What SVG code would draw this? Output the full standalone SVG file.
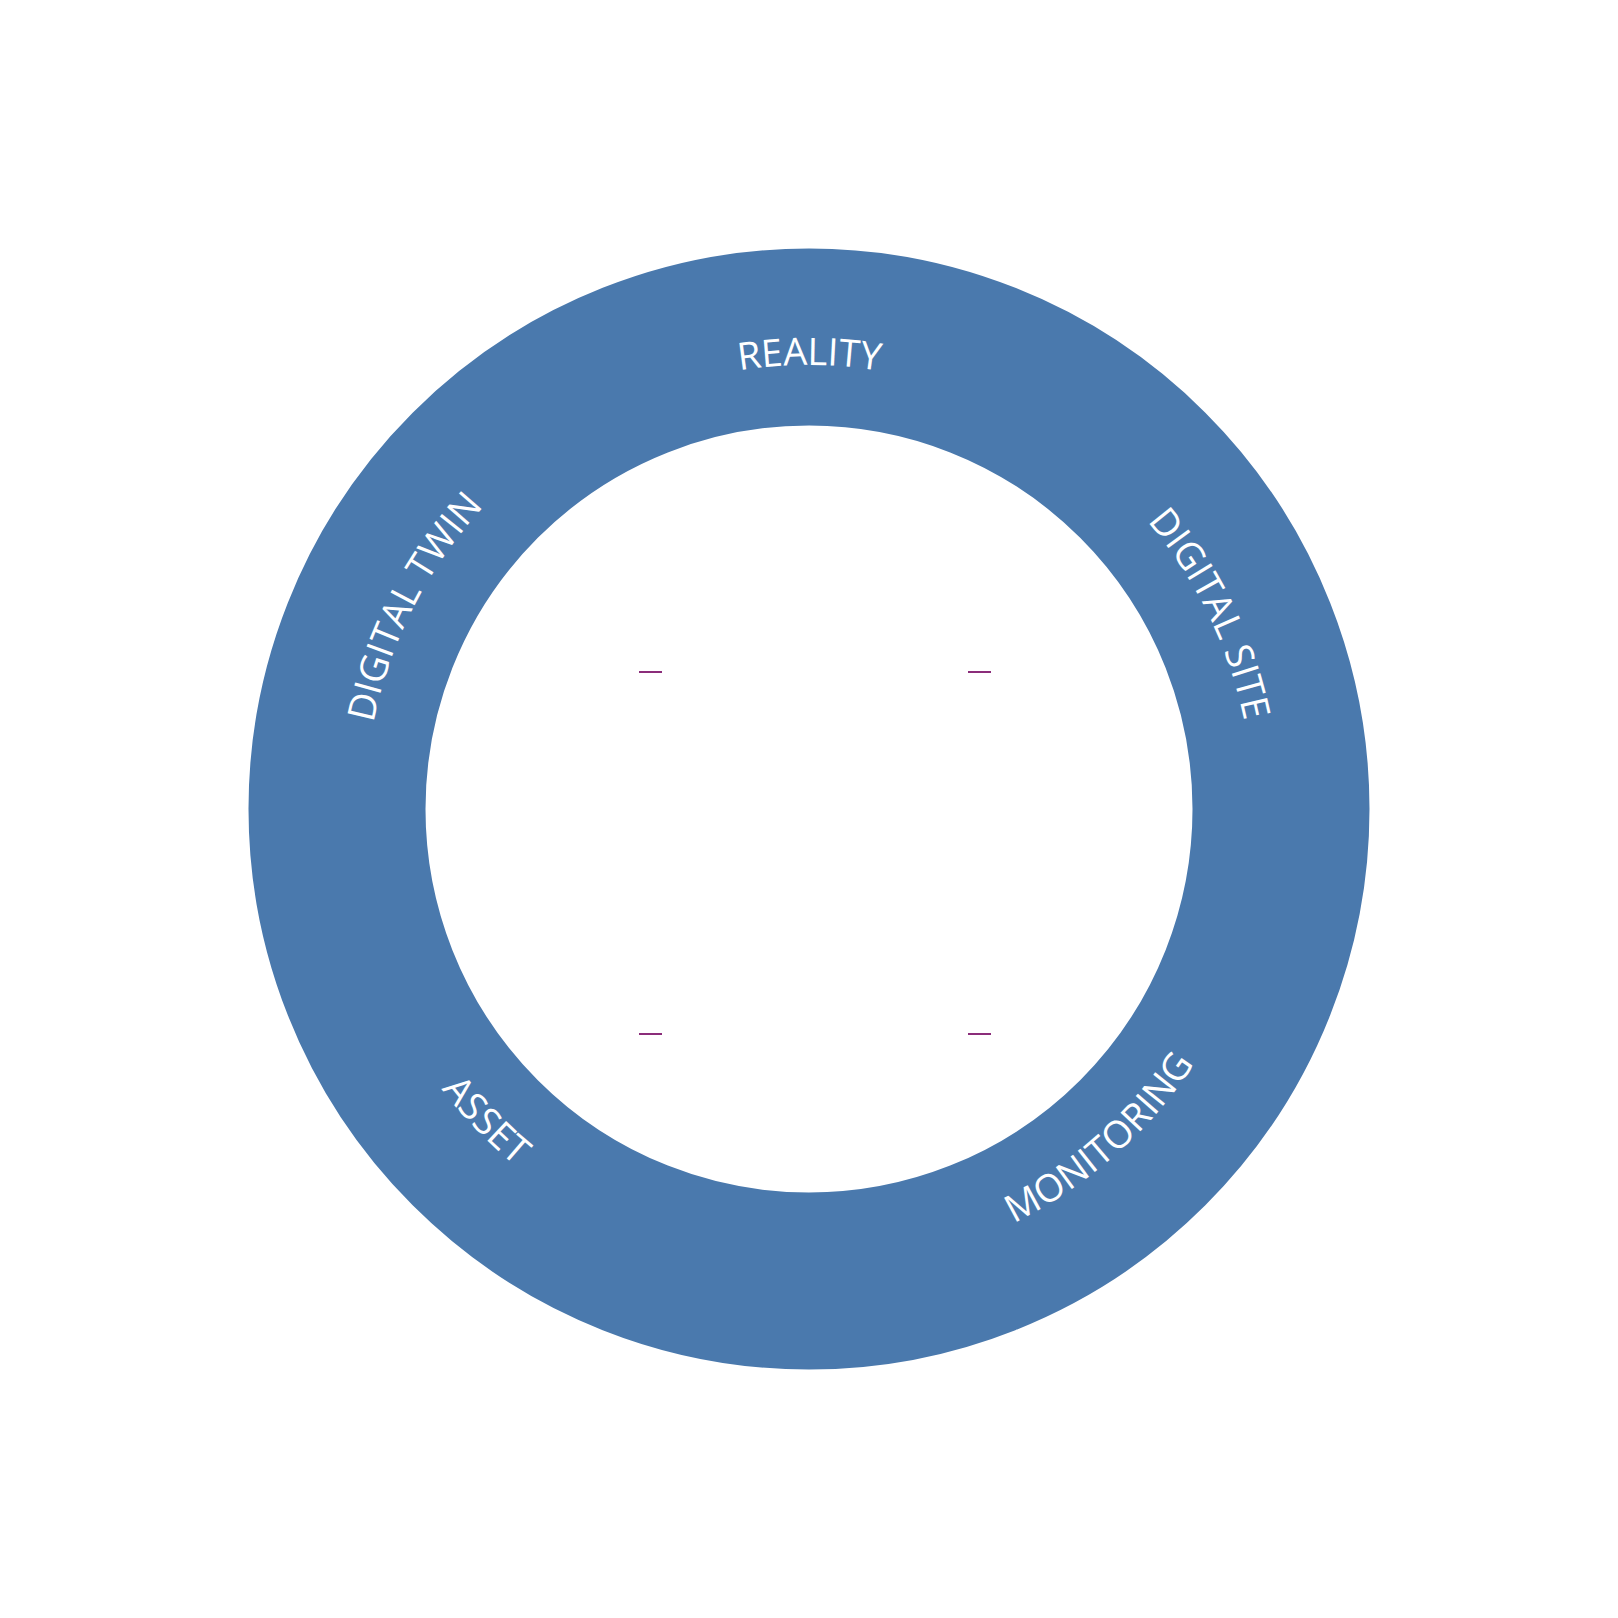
<svg xmlns="http://www.w3.org/2000/svg" xmlns:xlink="http://www.w3.org/1999/xlink" width="1618" height="1618" viewBox="0 0 1618 1618">
<style>
.lbl{font-family:"Open Sans","Liberation Sans",sans-serif;font-size:38px;fill:#fff;}
.dash{stroke:#8B2D7A;stroke-width:2;}
</style>
<defs>
<path id="cw" d="M 809,1253 A 444 444 0 1 1 809,365 A 444 444 0 1 1 809,1253"/>
<path id="ccw" d="M 809,347 A 462 462 0 1 0 809,1271 A 462 462 0 1 0 809,347"/>
</defs>
<rect width="1618" height="1618" fill="#fff"/>
<g id="ring">
<circle cx="809" cy="809" r="472" fill="none" stroke="#4A79AD" stroke-width="177"/>
</g>
<g id="labels">
<text class="lbl" text-anchor="middle"><textPath xlink:href="#cw" startOffset="1395">REALITY</textPath></text>
<text class="lbl" text-anchor="middle"><textPath xlink:href="#cw" startOffset="1891">DIGITAL SITE</textPath></text>
<text class="lbl" text-anchor="middle"><textPath xlink:href="#cw" startOffset="907">DIGITAL TWIN</textPath></text>
<text class="lbl" text-anchor="middle"><textPath xlink:href="#ccw" startOffset="1785">MONITORING</textPath></text>
<text class="lbl" text-anchor="middle"><textPath xlink:href="#ccw" startOffset="1080">ASSET</textPath></text>
</g>
<g id="connectors">
<line class="dash" x1="639" y1="672" x2="662" y2="672"/>
<line class="dash" x1="968" y1="672" x2="991" y2="672"/>
<line class="dash" x1="639" y1="1034" x2="662" y2="1034"/>
<line class="dash" x1="968" y1="1034" x2="991" y2="1034"/>
</g>
</svg>
